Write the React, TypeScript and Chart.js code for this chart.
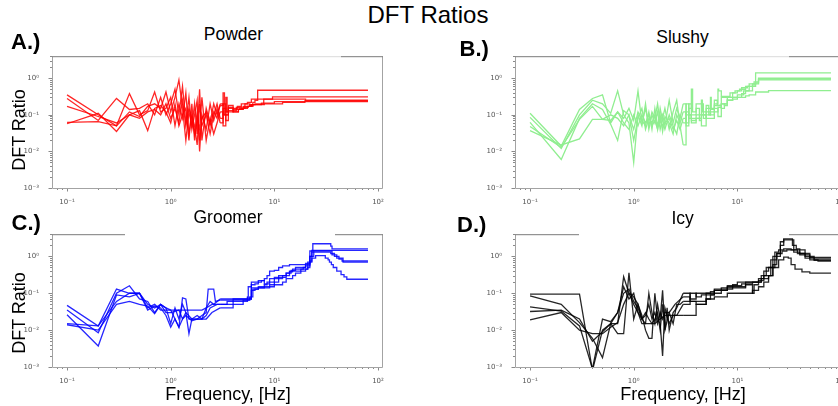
import React, { useEffect, useRef } from 'react';
import { Chart, registerables } from 'chart.js';

Chart.register(...registerables);

type Pt = [number, number];

// ---- axes / labels ----
const xRange: [number, number] = [0.0716, 111.7];
const yRange: [number, number] = [0.001, 4];
const xMajorTicks = [0.1, 1, 10, 100];
const xTickLabels = ['10⁻¹', '10⁰', '10¹', '10²'];
const yMajorTicks = [0.001, 0.01, 0.1, 1];
const yTickLabels = ['10⁻³', '10⁻²', '10⁻¹', '10⁰'];
const minorMultipliers = [2, 3, 4, 5, 6, 7, 8, 9];
// above this frequency the 0.1 Hz samples are drawn as a staircase
const stepFromHz = 3;

const figureTitle = 'DFT Ratios';
const panelTitles = ['Powder', 'Slushy', 'Groomer', 'Icy'];
const panelLetters = ['A.)', 'B.)', 'C.)', 'D.)'];
const yAxisTitle = 'DFT Ratio';
const xAxisTitle = 'Frequency, [Hz]';

// ---- A: Powder ----
const powder1: Pt[] = [[0.1,0.35],[0.2,0.1],[0.3,0.05],[0.4,0.12],[0.5,0.09],[0.6,0.17],[0.7,0.2],[0.8,0.15],[0.9,0.42],[1.0,0.12],[1.1,0.3],[1.2,0.9],[1.3,0.15],[1.4,0.02],[1.5,0.12],[1.6,0.05],[1.7,0.2],[1.8,0.03],[1.9,0.5],[2.0,0.02],[2.2,0.15],[2.4,0.06],[2.6,0.2],[2.8,0.1],[3.0,0.18],[3.2,0.4],[3.3,0.1],[3.6,0.15],[4.0,0.13],[4.3,0.16],[4.8,0.15],[5.2,0.2],[5.8,0.18],[6.2,0.22],[6.5,0.25],[6.9,0.47],[80,0.47]];
const powder2: Pt[] = [[0.1,0.28],[0.2,0.07],[0.3,0.28],[0.4,0.14],[0.5,0.15],[0.6,0.2],[0.7,0.1],[0.8,0.3],[0.9,0.1],[1.0,0.2],[1.1,0.5],[1.2,0.1],[1.3,0.6],[1.4,0.06],[1.5,0.3],[1.6,0.04],[1.7,0.1],[1.8,0.25],[1.9,0.01],[2.0,0.1],[2.2,0.04],[2.4,0.2],[2.6,0.07],[2.8,0.15],[3.0,0.06],[3.2,0.2],[3.4,0.12],[3.6,0.18],[4.0,0.15],[4.4,0.17],[4.8,0.2],[5.5,0.22],[6.0,0.27],[9.6,0.31],[80,0.31]];
const powder3: Pt[] = [[0.1,0.17],[0.2,0.09],[0.3,0.06],[0.4,0.1],[0.5,0.08],[0.6,0.12],[0.7,0.14],[0.8,0.1],[0.9,0.2],[1.0,0.08],[1.1,0.15],[1.2,0.06],[1.3,0.25],[1.4,0.05],[1.5,0.15],[1.6,0.08],[1.7,0.03],[1.8,0.12],[1.9,0.02],[2.0,0.08],[2.2,0.12],[2.4,0.05],[2.6,0.12],[2.8,0.08],[3.0,0.2],[3.2,0.1],[3.4,0.3],[3.5,0.12],[4.0,0.14],[4.6,0.15],[5.0,0.17],[5.8,0.19],[6.5,0.2],[7.9,0.27],[20,0.25],[80,0.25]];
const powder4: Pt[] = [[0.1,0.062],[0.2,0.065],[0.3,0.05],[0.4,0.38],[0.5,0.1],[0.6,0.13],[0.7,0.42],[0.8,0.12],[0.9,0.15],[1.0,0.3],[1.1,0.05],[1.2,0.2],[1.3,0.08],[1.4,0.4],[1.5,0.03],[1.6,0.1],[1.7,0.05],[1.8,0.015],[1.9,0.2],[2.0,0.05],[2.2,0.1],[2.4,0.03],[2.6,0.1],[2.8,0.2],[3.0,0.08],[3.2,0.15],[3.4,0.07],[3.6,0.13],[4.0,0.12],[4.5,0.14],[5.0,0.15],[5.5,0.17],[6.2,0.19],[7.5,0.21],[10,0.23],[80,0.23]];
const powder5: Pt[] = [[0.1,0.057],[0.2,0.11],[0.3,0.035],[0.4,0.1],[0.5,0.13],[0.6,0.037],[0.7,0.15],[0.8,0.18],[0.9,0.12],[1.0,0.06],[1.1,0.2],[1.2,0.05],[1.3,0.1],[1.4,0.15],[1.5,0.02],[1.6,0.2],[1.7,0.02],[1.8,0.08],[1.9,0.04],[2.0,0.3],[2.2,0.02],[2.4,0.08],[2.6,0.03],[2.8,0.06],[3.0,0.12],[3.2,0.05],[3.4,0.1],[3.6,0.16],[4.0,0.12],[4.5,0.14],[5.0,0.16],[5.6,0.17],[6.0,0.19],[8.0,0.2],[12,0.22],[19.7,0.24],[80,0.24]];

// ---- B: Slushy ----
const slushy1: Pt[] = [[0.1,0.11],[0.2,0.014],[0.3,0.14],[0.4,0.28],[0.5,0.35],[0.6,0.06],[0.7,0.12],[0.8,0.08],[0.9,0.15],[1.0,0.07],[1.1,0.45],[1.2,0.06],[1.3,0.15],[1.4,0.05],[1.5,0.12],[1.6,0.08],[1.7,0.2],[1.8,0.06],[1.9,0.1],[2.0,0.05],[2.2,0.25],[2.4,0.06],[2.6,0.15],[2.8,0.08],[3.0,0.2],[3.2,0.1],[3.4,0.15],[3.6,0.5],[3.7,0.12],[4.0,0.2],[4.5,0.25],[4.6,0.12],[5.0,0.15],[5.5,0.3],[5.6,0.15],[6.0,0.2],[6.5,0.5],[6.6,0.45],[7.0,0.32],[8.5,0.4],[9.5,0.45],[10.5,0.5],[12,0.6],[13,0.7],[15,1.4],[80,1.4]];
const slushy2: Pt[] = [[0.1,0.085],[0.2,0.012],[0.3,0.1],[0.4,0.25],[0.5,0.2],[0.6,0.11],[0.7,0.45],[0.8,0.1],[0.9,0.06],[1.0,0.005],[1.1,0.1],[1.2,0.05],[1.3,0.2],[1.4,0.04],[1.5,0.1],[1.6,0.06],[1.7,0.12],[1.8,0.04],[1.9,0.08],[2.0,0.15],[2.2,0.04],[2.4,0.12],[2.6,0.25],[2.8,0.05],[3.0,0.015],[3.2,0.12],[3.4,0.08],[3.6,0.1],[4.0,0.15],[4.3,0.07],[4.5,0.1],[5.0,0.18],[5.3,0.1],[5.5,0.12],[6.0,0.25],[6.4,0.18],[7.0,0.3],[8.0,0.3],[9.0,0.4],[10,0.45],[11,0.55],[12.5,0.6],[14,0.7],[16,1.0],[80,1.0]];
const slushy3: Pt[] = [[0.1,0.062],[0.2,0.006],[0.3,0.08],[0.4,0.2],[0.5,0.14],[0.6,0.055],[0.7,0.02],[0.8,0.13],[0.9,0.1],[1.0,0.04],[1.1,0.12],[1.2,0.07],[1.3,0.05],[1.4,0.12],[1.5,0.04],[1.6,0.15],[1.7,0.05],[1.8,0.1],[1.9,0.035],[2.0,0.09],[2.2,0.06],[2.4,0.03],[2.6,0.1],[2.8,0.06],[3.0,0.12],[3.2,0.05],[3.4,0.2],[3.6,0.08],[4.0,0.1],[4.5,0.2],[4.7,0.08],[5.0,0.12],[5.5,0.1],[6.0,0.15],[6.5,0.09],[7.0,0.2],[7.5,0.18],[8.0,0.25],[9.0,0.3],[10,0.35],[11.5,0.45],[13,0.6],[14.5,0.8],[16,0.9],[80,0.9]];
const slushy4: Pt[] = [[0.1,0.048],[0.2,0.013],[0.3,0.075],[0.4,0.17],[0.5,0.075],[0.6,0.1],[0.7,0.08],[0.8,0.05],[0.9,0.1],[1.0,0.02],[1.1,0.08],[1.2,0.15],[1.3,0.04],[1.4,0.08],[1.5,0.06],[1.6,0.1],[1.7,0.04],[1.8,0.15],[1.9,0.07],[2.0,0.04],[2.2,0.1],[2.4,0.05],[2.6,0.03],[2.8,0.1],[3.0,0.06],[3.2,0.2],[3.4,0.1],[3.6,0.06],[4.0,0.08],[4.5,0.05],[5.0,0.1],[5.5,0.14],[6.0,0.18],[7.0,0.15],[7.5,0.2],[8.0,0.3],[10,0.3],[11,0.38],[12,0.45],[14,0.6],[15,0.75],[16,0.95],[80,0.95]];
const slushy5: Pt[] = [[0.1,0.037],[0.2,0.015],[0.3,0.022],[0.4,0.075],[0.5,0.075],[0.6,0.07],[0.7,0.12],[0.8,0.06],[0.9,0.04],[1.0,0.1],[1.1,0.05],[1.2,0.1],[1.3,0.06],[1.4,0.1],[1.5,0.05],[1.6,0.07],[1.7,0.04],[1.8,0.08],[1.9,0.05],[2.0,0.06],[2.2,0.08],[2.4,0.04],[2.6,0.07],[2.8,0.04],[3.0,0.08],[3.2,0.06],[3.4,0.1],[3.6,0.07],[4.0,0.08],[4.5,0.1],[5.0,0.08],[6.0,0.12],[6.5,0.16],[7.0,0.2],[8.0,0.25],[9.0,0.27],[10,0.3],[12,0.33],[13,0.35],[15,0.42],[20,0.46],[80,0.46]];

// ---- C: Groomer ----
const groomer1: Pt[] = [[0.1,0.047],[0.2,0.013],[0.3,0.13],[0.4,0.1],[0.5,0.1],[0.6,0.04],[0.7,0.05],[0.8,0.035],[0.9,0.035],[1.0,0.035],[1.3,0.035],[1.6,0.035],[2.0,0.035],[2.2,0.04],[2.5,0.05],[3.0,0.05],[4.0,0.05],[5.0,0.06],[5.5,0.08],[5.6,0.15],[6.0,0.17],[6.5,0.18],[7.0,0.2],[7.5,0.22],[8.0,0.25],[8.5,0.3],[9.0,0.4],[10,0.42],[11,0.5],[12,0.55],[14,0.6],[20,0.6],[21,0.7],[22,1.4],[23.5,2.2],[35,1.9],[36,1.6],[80,1.6]];
const groomer2: Pt[] = [[0.1,0.035],[0.2,0.0085],[0.3,0.1],[0.4,0.16],[0.5,0.07],[0.6,0.06],[0.7,0.03],[0.8,0.05],[0.9,0.04],[1.0,0.015],[1.1,0.04],[1.2,0.02],[1.3,0.05],[1.4,0.03],[1.5,0.008],[1.6,0.02],[1.8,0.025],[2.0,0.02],[2.2,0.04],[2.4,0.06],[2.6,0.05],[3.0,0.07],[4.0,0.07],[5.5,0.075],[6.0,0.12],[6.5,0.13],[7.0,0.15],[8.0,0.17],[8.5,0.2],[10,0.25],[11,0.27],[13,0.3],[14,0.38],[15,0.45],[19,0.5],[20,0.65],[22,1.0],[23,1.45],[80,1.45]];
const groomer3: Pt[] = [[0.1,0.026],[0.2,0.0037],[0.3,0.09],[0.4,0.08],[0.5,0.1],[0.6,0.035],[0.7,0.045],[0.8,0.04],[0.9,0.025],[1.0,0.012],[1.1,0.02],[1.2,0.012],[1.3,0.075],[1.4,0.07],[1.5,0.02],[1.6,0.02],[1.8,0.02],[2.0,0.025],[2.2,0.03],[2.3,0.13],[2.6,0.13],[2.7,0.06],[3.0,0.065],[4.0,0.065],[5.8,0.08],[6.0,0.2],[7.0,0.22],[8.0,0.18],[9.0,0.25],[10,0.27],[11,0.3],[13,0.35],[14.5,0.42],[16,0.5],[20,0.55],[22,0.7],[23,1.3],[35,1.2],[38,1.0],[42,0.85],[45,0.75],[80,0.75]];
const groomer4: Pt[] = [[0.1,0.015],[0.2,0.013],[0.3,0.06],[0.4,0.1],[0.5,0.1],[0.6,0.05],[0.7,0.04],[0.8,0.05],[0.9,0.03],[1.0,0.03],[1.2,0.035],[1.3,0.02],[1.4,0.03],[1.6,0.02],[1.8,0.02],[2.0,0.02],[2.2,0.025],[2.4,0.04],[2.8,0.05],[3.0,0.05],[3.5,0.06],[4.0,0.07],[6.0,0.08],[6.2,0.13],[7.0,0.14],[8.0,0.15],[9.0,0.17],[10,0.2],[11,0.25],[12,0.3],[13,0.35],[14,0.4],[18,0.45],[21,0.5],[22,1.0],[24,1.4],[36,1.1],[40,0.9],[46,0.7],[80,0.7]];
const groomer5: Pt[] = [[0.1,0.014],[0.2,0.01],[0.3,0.05],[0.4,0.06],[0.5,0.05],[0.6,0.045],[0.7,0.028],[0.8,0.05],[0.9,0.04],[1.0,0.035],[1.1,0.02],[1.2,0.012],[1.3,0.02],[1.4,0.025],[1.6,0.018],[1.8,0.02],[2.0,0.02],[2.2,0.02],[2.5,0.03],[3.0,0.04],[4.0,0.06],[5.0,0.065],[5.7,0.07],[6.0,0.14],[9.0,0.15],[10,0.17],[12,0.2],[13,0.25],[15,0.3],[16,0.35],[18,0.4],[20,0.45],[21,0.6],[22,0.75],[23,0.9],[25,1.05],[31,0.9],[33,0.8],[34,0.7],[35.5,0.6],[37,0.5],[40,0.4],[44,0.32],[47,0.28],[50,0.24],[80,0.24]];

// ---- D: Icy ----
const icy1: Pt[] = [[0.1,0.095],[0.3,0.095],[0.4,0.0008],[0.5,0.01],[0.6,0.015],[0.7,0.015],[0.8,0.28],[0.9,0.1],[1.0,0.05],[1.1,0.03],[1.2,0.015],[1.3,0.015],[1.4,0.1],[1.5,0.03],[1.6,0.015],[1.7,0.05],[1.8,0.02],[1.9,0.12],[2.0,0.01],[2.2,0.03],[2.4,0.015],[2.6,0.05],[2.8,0.05],[3.0,0.06],[3.5,0.1],[4.0,0.08],[4.5,0.09],[5.0,0.1],[5.5,0.11],[6.0,0.12],[7.0,0.13],[8.0,0.15],[9.0,0.17],[10,0.2],[14,0.2],[16,0.25],[18,0.4],[20,0.5],[22,1.0],[24,1.2],[26,2.5],[28,2.8],[35,1.5],[40,1.2],[50,0.94],[80,0.94]];
const icy2: Pt[] = [[0.1,0.085],[0.2,0.05],[0.3,0.016],[0.4,0.006],[0.5,0.0018],[0.6,0.015],[0.7,0.008],[0.8,0.008],[0.9,0.36],[1.0,0.02],[1.1,0.05],[1.2,0.025],[1.3,0.01],[1.4,0.006],[1.5,0.006],[1.6,0.1],[1.7,0.02],[1.8,0.015],[1.9,0.002],[2.0,0.04],[2.2,0.015],[2.4,0.025],[2.6,0.025],[3.0,0.05],[3.5,0.06],[4.0,0.05],[5.0,0.07],[5.5,0.09],[6.0,0.1],[7.0,0.12],[8.0,0.13],[9.0,0.15],[12,0.2],[15,0.2],[17,0.3],[19,0.5],[21,0.8],[24,1.0],[26,2.0],[28,3.0],[34,2.0],[37,1.6],[40,1.5],[45,1.0],[55,0.85],[80,0.85]];
const icy3: Pt[] = [[0.1,0.043],[0.2,0.033],[0.3,0.013],[0.4,0.0009],[0.5,0.02],[0.6,0.017],[0.7,0.03],[0.8,0.1],[0.9,0.13],[1.0,0.06],[1.1,0.04],[1.2,0.02],[1.3,0.03],[1.4,0.02],[1.5,0.015],[1.6,0.02],[1.7,0.03],[1.8,0.01],[1.9,0.05],[2.0,0.01],[2.1,0.04],[2.2,0.01],[2.4,0.03],[2.6,0.04],[3.0,0.1],[3.5,0.06],[4.0,0.06],[5.0,0.09],[6.0,0.13],[7.0,0.14],[8.0,0.16],[11,0.18],[14,0.2],[17,0.25],[18,0.3],[21,0.5],[23,1.3],[25,1.5],[28,1.6],[33,1.5],[38,1.2],[45,0.9],[55,0.78],[80,0.78]];
const icy4: Pt[] = [[0.1,0.032],[0.2,0.035],[0.3,0.02],[0.4,0.005],[0.5,0.009],[0.6,0.015],[0.7,0.03],[0.8,0.15],[0.9,0.07],[1.0,0.1],[1.1,0.03],[1.2,0.02],[1.3,0.025],[1.4,0.05],[1.5,0.02],[1.6,0.03],[1.7,0.015],[1.8,0.03],[1.9,0.02],[2.0,0.03],[2.2,0.03],[2.5,0.05],[3.0,0.08],[3.5,0.07],[4.0,0.1],[5.0,0.1],[6.0,0.12],[8.0,0.14],[10,0.14],[12,0.17],[14,0.1],[14.5,0.17],[16,0.22],[18,0.25],[20,0.3],[22,0.6],[24,1.2],[27,1.4],[30,1.5],[35,1.3],[40,1.1],[50,0.8],[60,0.74],[80,0.74]];
const icy5: Pt[] = [[0.1,0.019],[0.2,0.03],[0.3,0.01],[0.4,0.008],[0.5,0.008],[0.6,0.012],[0.7,0.016],[0.8,0.05],[0.9,0.1],[1.0,0.08],[1.1,0.05],[1.2,0.02],[1.3,0.015],[1.4,0.015],[1.6,0.015],[1.8,0.02],[2.0,0.025],[2.2,0.025],[2.5,0.025],[3.0,0.025],[4.0,0.05],[5.0,0.07],[6.0,0.08],[8.0,0.1],[10,0.1],[14,0.12],[16,0.15],[18,0.2],[20,0.3],[22,0.5],[25,0.8],[28,0.95],[31,0.9],[33,0.6],[36,0.45],[42,0.38],[50,0.35],[80,0.35]];

const FONT = '"Liberation Sans", Arial, Helvetica, sans-serif';

const framePlugin = {
  id: 'frame',
  afterDatasetsDraw(chart: any, _args: any, opts: any) {
    const { ctx, chartArea } = chart;
    const { left, right, top, bottom } = chartArea;
    const xs = chart.scales.x;
    const ys = chart.scales.y;
    ctx.save();
    ctx.lineWidth = 1;
    ctx.strokeStyle = '#8a8a8a';
    ctx.beginPath();
    const xTick = (v: number, len: number) => {
      if (v < xs.min || v > xs.max) return;
      const px = Math.round(xs.getPixelForValue(v)) + 0.5;
      ctx.moveTo(px, bottom);
      ctx.lineTo(px, bottom + len);
    };
    const yTick = (v: number, len: number) => {
      if (v < ys.min || v > ys.max) return;
      const py = Math.round(ys.getPixelForValue(v)) + 0.5;
      ctx.moveTo(left, py);
      ctx.lineTo(left - len, py);
    };
    [0.01, ...xMajorTicks].forEach((d) => {
      xTick(d, 3.5);
      minorMultipliers.forEach((m) => xTick(d * m, 2));
    });
    [...yMajorTicks, 10].forEach((d) => {
      yTick(d, 3.5);
      minorMultipliers.forEach((m) => yTick(d * m, 2));
    });
    ctx.stroke();
    ctx.strokeStyle = '#a3a3a3';
    ctx.beginPath();
    ctx.moveTo(left + 0.5, top + 0.5);
    ctx.lineTo(left + 0.5, bottom + 0.5);
    ctx.lineTo(right - 0.5, bottom + 0.5);
    ctx.lineTo(right - 0.5, top + 0.5);
    ctx.stroke();
    const [g0, g1] = opts.gap;
    ctx.strokeStyle = '#7a7a7a';
    ctx.beginPath();
    ctx.moveTo(left, top + 0.5);
    ctx.lineTo(g0, top + 0.5);
    ctx.moveTo(g1, top + 0.5);
    ctx.lineTo(right, top + 0.5);
    ctx.stroke();
    if (opts.gapColor) {
      ctx.strokeStyle = opts.gapColor;
      ctx.beginPath();
      ctx.moveTo(g0, top + 0.5);
      ctx.lineTo(g1, top + 0.5);
      ctx.stroke();
    }
    ctx.restore();
  },
};

const Y_W = 40;
const X_H = 20;
const PAD_T = 4;
const PAD_R = 4;

type PanelProps = {
  chartLeft: number;
  chartTop: number;
  chartRight: number;
  chartBottom: number;
  series: Pt[][];
  color: string;
  gap: [number, number];
  gapColor?: string;
};

function splitSeries(s: Pt[]): [Pt[], Pt[]] {
  const low = s.filter((p) => p[0] <= stepFromHz);
  const high = s.filter((p) => p[0] >= stepFromHz);
  if (low.length && high.length && high[0][0] !== low[low.length - 1][0]) {
    high.unshift(low[low.length - 1]);
  }
  return [low, high];
}

function Panel({ chartLeft, chartTop, chartRight, chartBottom, series, color, gap, gapColor }: PanelProps) {
  const ref = useRef<HTMLCanvasElement>(null);
  const left = chartLeft - Y_W;
  const top = chartTop - PAD_T;
  const width = chartRight + PAD_R - left;
  const height = chartBottom + X_H - top;
  useEffect(() => {
    const mk = (pts: Pt[], stepped: any) => ({
      data: pts.map(([x, y]) => ({ x, y })),
      borderColor: color,
      borderWidth: 1.3,
      pointRadius: 0,
      fill: false,
      tension: 0,
      stepped,
    });
    const datasets = series.flatMap((s) => {
      const [low, high] = splitSeries(s);
      return [mk(low, false), mk(high, 'before')];
    });
    const tickFont = { family: '"DejaVu Sans", sans-serif', size: 7 };
    const chart = new Chart(ref.current as HTMLCanvasElement, {
      type: 'line',
      data: { datasets },
      options: {
        animation: false,
        responsive: false,
        maintainAspectRatio: false,
        events: [],
        layout: { padding: { left: 0, top: PAD_T, right: PAD_R, bottom: 0 } },
        plugins: {
          legend: { display: false },
          tooltip: { enabled: false },
          frame: { gap: [gap[0] - left, gap[1] - left], gapColor },
        } as any,
        scales: {
          x: {
            type: 'logarithmic',
            min: xRange[0],
            max: xRange[1],
            afterFit: (s: any) => {
              s.height = X_H;
            },
            afterBuildTicks: (s: any) => {
              s.ticks = xMajorTicks.map((v) => ({ value: v }));
            },
            grid: { display: false },
            border: { display: false },
            ticks: {
              autoSkip: false,
              maxRotation: 0,
              padding: 2,
              color: '#555',
              font: tickFont,
              callback: (v: any) => xTickLabels[xMajorTicks.indexOf(Number(v))] ?? '',
            },
          },
          y: {
            type: 'logarithmic',
            min: yRange[0],
            max: yRange[1],
            afterFit: (s: any) => {
              s.width = Y_W;
            },
            afterBuildTicks: (s: any) => {
              s.ticks = yMajorTicks.map((v) => ({ value: v }));
            },
            grid: { display: false },
            border: { display: false },
            ticks: {
              autoSkip: false,
              padding: 5,
              color: '#555',
              font: tickFont,
              callback: (v: any) => yTickLabels[yMajorTicks.indexOf(Number(v))] ?? '',
            },
          },
        },
      } as any,
      plugins: [framePlugin as any],
    });
    return () => chart.destroy();
  }, []);
  return (
    <canvas
      ref={ref}
      width={width}
      height={height}
      style={{ position: 'absolute', left, top, width, height }}
    />
  );
}

function Txt({ x, base, size, text, bold = false, align = 'center' }: { x: number; base: number; size: number; text: string; bold?: boolean; align?: 'center' | 'left' }) {
  const style: any = {
    position: 'absolute',
    top: base - 0.8465 * size,
    fontSize: size,
    lineHeight: `${size}px`,
    height: size,
    fontFamily: FONT,
    fontWeight: bold ? 'bold' : 'normal',
    whiteSpace: 'nowrap',
    color: '#000',
    pointerEvents: 'none',
  };
  if (align === 'center') {
    style.left = x - 300;
    style.width = 600;
    style.textAlign = 'center';
  } else {
    style.left = x;
  }
  return <div style={style}>{text}</div>;
}

function VTxt({ base, cy, size, text }: { base: number; cy: number; size: number; text: string }) {
  const cx = base - (0.8465 * size - size / 2);
  return (
    <div
      style={{
        position: 'absolute',
        left: cx - 100,
        top: cy - size / 2,
        width: 200,
        height: size,
        lineHeight: `${size}px`,
        fontSize: size,
        fontFamily: FONT,
        textAlign: 'center',
        whiteSpace: 'nowrap',
        transform: 'rotate(-90deg)',
        color: '#000',
        pointerEvents: 'none',
      }}
    >
      {text}
    </div>
  );
}

export default function App() {
  return (
    <div
      style={{
        position: 'fixed',
        left: 0,
        top: 0,
        width: 838,
        height: 406,
        overflow: 'hidden',
        background: '#fff',
      }}
    >
      <Panel chartLeft={52} chartTop={51} chartRight={383} chartBottom={188}
        series={[powder1, powder2, powder3, powder4, powder5]} color="rgba(255,0,0,0.85)"
        gap={[130, 341]} gapColor="#dadada" />
      <Panel chartLeft={515} chartTop={51} chartRight={846} chartBottom={188}
        series={[slushy1, slushy2, slushy3, slushy4, slushy5]} color="#90ee90"
        gap={[580, 789]} gapColor="#dadada" />
      <Panel chartLeft={52} chartTop={229} chartRight={383} chartBottom={367}
        series={[groomer1, groomer2, groomer3, groomer4, groomer5]} color="rgba(0,0,255,0.85)"
        gap={[125, 335]} />
      <Panel chartLeft={515} chartTop={229} chartRight={846} chartBottom={367}
        series={[icy1, icy2, icy3, icy4, icy5]} color="rgba(0,0,0,0.85)"
        gap={[579, 789]} />

      <Txt x={428} base={23} size={24} text={figureTitle} />
      <Txt x={233.5} base={40.5} size={17.5} text={panelTitles[0]} />
      <Txt x={682.5} base={44} size={17.5} text={panelTitles[1]} />
      <Txt x={228} base={223.5} size={17.5} text={panelTitles[2]} />
      <Txt x={682.7} base={225} size={17.5} text={panelTitles[3]} />

      <Txt x={11} base={49.5} size={22} bold align="left" text={panelLetters[0]} />
      <Txt x={459.5} base={57} size={22} bold align="left" text={panelLetters[1]} />
      <Txt x={11.5} base={231} size={22} bold align="left" text={panelLetters[2]} />
      <Txt x={457} base={233} size={22} bold align="left" text={panelLetters[3]} />

      <VTxt base={25} cy={130} size={18} text={yAxisTitle} />
      <VTxt base={25} cy={312.5} size={18} text={yAxisTitle} />

      <Txt x={228} base={400} size={18} text={xAxisTitle} />
      <Txt x={683} base={400} size={18} text={xAxisTitle} />
    </div>
  );
}
